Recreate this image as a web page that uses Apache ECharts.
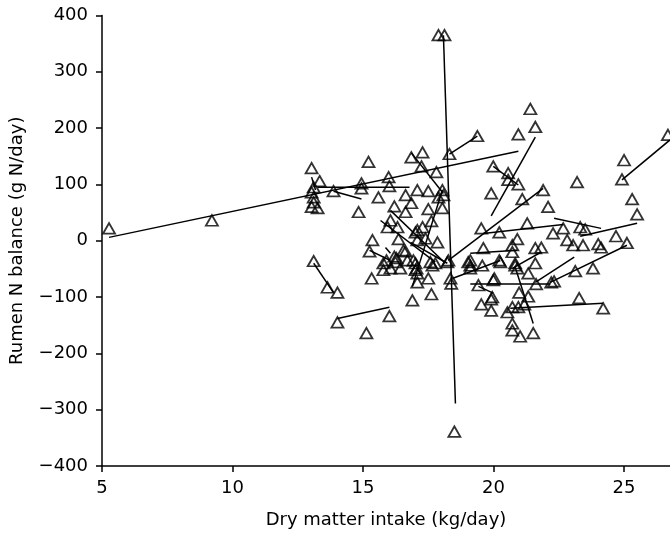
<!DOCTYPE html>
<html>
<head>
<meta charset="utf-8">
<script src="https://cdn.jsdelivr.net/npm/echarts@6/dist/echarts.min.js"></script>
<style>html,body{margin:0;padding:0;background:#fff}#c{width:670px;height:536px}</style>
</head>
<body>
<div id="c"></div>
<script>
// Dry matter intake (kg/day)
var dmi = [5.27,9.21,13.03,13.34,13.11,13.03,13.11,13.11,13.03,13.26,13.87,13.11,13.64,14.02,14.02,14.83,14.94,14.94,15.21,15.13,
15.59,15.98,16.01,16.01,16.05,15.94,16.32,16.20,16.63,16.63,16.85,16.85,17.08,17.08,15.36,15.25,15.33,16.36,15.90,16.20,
16.55,15.78,16.05,16.28,16.43,16.63,16.70,16.89,17.05,17.08,15.78,16.24,17.01,17.58,18.23,19.03,19.57,20.26,20.83,21.60,
17.01,17.08,17.50,17.66,18.35,18.38,19.11,19.11,19.42,19.99,20.91,21.33,21.63,22.21,22.32,23.13,23.81,20.98,21.33,19.91,
19.91,19.53,20.53,20.72,20.95,21.18,20.72,20.72,21.02,21.52,23.28,24.20,17.62,18.50,17.08,17.39,17.85,16.93,17.77,18.27,
19.11,19.61,20.22,20.03,19.95,20.72,20.72,20.91,21.60,20.83,17.89,18.12,21.41,21.60,19.38,20.95,26.68,18.31,17.28,25.00,
17.24,17.81,19.99,20.56,20.56,20.95,24.92,23.20,17.50,18.04,18.08,17.89,19.91,21.90,21.10,25.31,25.50,17.50,18.04,22.09,
17.62,17.28,21.29,19.53,20.22,22.67,22.28,23.32,23.51,24.69,22.82,23.05,23.43,24.01,24.12,25.11,21.83,17.01];
// Rumen N balance (g N/day)
var rnb = [22,36,129,106,95,86,77,68,60,58,88,-36,-83,-92,-145,51,102,93,140,-164,
77,113,97,-134,36,24,24,61,81,51,148,67,90,19,1,-19,-67,3,-35,-28,
-17,-52,-49,-31,-49,-19,-35,-106,-49,-74,-40,-38,-40,-38,-38,-38,-44,-38,-40,-40,
-52,-58,-67,-44,-67,-76,-44,-49,-79,-70,-49,-58,-77,-74,-72,-54,-49,-92,-99,-104,
-124,-113,-127,-118,-118,-113,-147,-159,-170,-164,-102,-120,-95,-339,1,4,-3,-35,-40,-35,
-35,-13,-35,-67,-100,-8,-20,3,-13,-44,365,365,234,202,186,189,188,154,157,143,
132,122,132,120,108,100,109,104,88,90,81,77,84,90,74,74,47,56,58,60,
35,24,31,22,15,22,13,24,20,8,1,-8,-8,-6,-12,-4,-12,15];
// Within-study regression segments
var segX1 = [5.27,13.26,13.87,13.03,13.11,14.02,18.08,18.31,16.85,19.91,19.99,18.27,19.61,24.92,22.32,23.32,22.17,21.60,20.64,19.11,19.42,20.83,19.11,18.42,20.72,16.89,16.05,15.67,15.86,15.25,16.82];
var segY1 = [6,95,88,113,-40,-138,365,154,156,44,132,-35,13,108,40,8,-74,-74,-120,-77,-81,-47,-22,-67,-49,-81,54,36,-12,-17,-3];
var segX2 = [20.95,16.78,14.94,13.18,13.87,16.01,18.54,19.38,18.08,21.60,20.95,21.90,22.67,26.76,24.12,25.50,25.11,23.09,24.20,22.17,19.99,21.52,20.91,20.26,21.83,18.04,18.15,17.77,16.05,16.05,18.23];
var segY2 = [159,95,74,90,-92,-118,-289,186,84,184,99,93,29,179,22,31,-8,-29,-111,-77,-93,-147,-17,-35,-20,90,-40,-38,-22,-35,-40];
var xTicks = [5,10,15,20,25];
var yTicks = [-400,-300,-200,-100,0,100,200,300,400];

var FONT = 'DejaVu Sans';
var pts = dmi.map(function(x,i){return [x, rnb[i]];});
var series = [];
for (var i = 0; i < segX1.length; i++) {
  series.push({type:'line', data:[[segX1[i],segY1[i]],[segX2[i],segY2[i]]], symbol:'none', silent:true,
    lineStyle:{color:'#000', width:1.5}, clip:false, z:2, animation:false});
}
series.push({type:'scatter', data:pts, symbol:'triangle', symbolSize:[12,10.5], clip:false, z:3,
  itemStyle:{color:'rgba(0,0,0,0)', borderColor:'#000', borderWidth:1.8}, animation:false});

var chart = echarts.init(document.getElementById('c'), null, {renderer:'canvas'});
function fmt(v){ return String(v).replace('-', '\u2212'); }
chart.setOption({
  animation:false,
  backgroundColor:'#fff',
  grid:{left:101, right:0, top:15.5, bottom:70, containLabel:false},
  xAxis:{type:'value', min:xTicks[0], max:26.76, interval:5,
    name:'Dry matter intake (kg/day)', nameLocation:'middle', nameGap:45,
    nameTextStyle:{fontFamily:FONT, fontSize:18, color:'#000'},
    axisLine:{onZero:false, lineStyle:{color:'#000', width:1.5}},
    axisTick:{length:6, lineStyle:{color:'#000', width:1.5}},
    axisLabel:{fontFamily:FONT, fontSize:18, color:'#000', margin:13, formatter:fmt, showMaxLabel:false},
    splitLine:{show:false}},
  yAxis:{type:'value', min:yTicks[0], max:yTicks[yTicks.length-1], interval:100,
    name:'Rumen N balance (g N/day)', nameLocation:'middle', nameGap:76,
    nameTextStyle:{fontFamily:FONT, fontSize:18, color:'#000'},
    axisLine:{show:true, onZero:false, lineStyle:{color:'#000', width:1.5}},
    axisTick:{show:true, length:6, lineStyle:{color:'#000', width:1.5}},
    axisLabel:{fontFamily:FONT, fontSize:18, color:'#000', margin:14, formatter:fmt},
    splitLine:{show:false}},
  series:series
});
</script>
</body>
</html>
